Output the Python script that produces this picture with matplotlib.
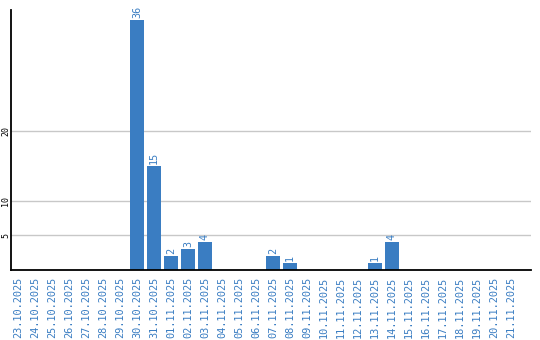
import numpy as np
import matplotlib
matplotlib.use("Agg")
import matplotlib.pyplot as plt

dates = ['23.10.2025', '24.10.2025', '25.10.2025', '26.10.2025', '27.10.2025',
         '28.10.2025', '29.10.2025', '30.10.2025', '31.10.2025', '01.11.2025',
         '02.11.2025', '03.11.2025', '04.11.2025', '05.11.2025', '06.11.2025',
         '07.11.2025', '08.11.2025', '09.11.2025', '10.11.2025', '11.11.2025',
         '12.11.2025', '13.11.2025', '14.11.2025', '15.11.2025', '16.11.2025',
         '17.11.2025', '18.11.2025', '19.11.2025', '20.11.2025', '21.11.2025']
counts = [0, 0, 0, 0, 0, 0, 0, 36, 15, 2, 3, 4, 0, 0, 0,
          2, 1, 0, 0, 0, 0, 1, 4, 0, 0, 0, 0, 0, 0, 0]
yticks = [5, 10, 20]

blue = '#3a7dc2'
mono = 'DejaVu Sans Mono'

fig = plt.figure(figsize=(5.4, 3.4), dpi=100)
ax = fig.add_axes([11/540, 1 - 270/340, 520/540, 260/340])

x = np.arange(len(dates))
ax.bar(x, counts, width=0.82, color=blue, zorder=3)

for xi, c in zip(x, counts):
    if c > 0:
        ax.text(xi, c + 0.3, str(c), rotation=90, ha='center', va='bottom',
                color=blue, fontsize=7.3, family=mono, zorder=4)

ax.set_xlim(-0.41, len(dates) + 0.18)
ax.set_ylim(0, 37.5)
ax.set_yticks(yticks)
ax.set_yticklabels([str(t) for t in yticks], rotation=90, va='center',
                   fontsize=6, family=mono)
ax.set_xticks(x)
ax.set_xticklabels(dates, rotation=90, color=blue, fontsize=7.4, family=mono)
ax.tick_params(axis='both', length=0)
ax.tick_params(axis='x', pad=5)
ax.tick_params(axis='y', pad=0.5)
ax.grid(axis='y', color='#c8c8c8', linewidth=1, zorder=0)

ax.spines['top'].set_visible(False)
ax.spines['right'].set_visible(False)
for s in ('left', 'bottom'):
    ax.spines[s].set_linewidth(1.3)
    ax.spines[s].set_color('black')
    ax.spines[s].set_zorder(5)

fig.savefig('out.png', dpi=100)
